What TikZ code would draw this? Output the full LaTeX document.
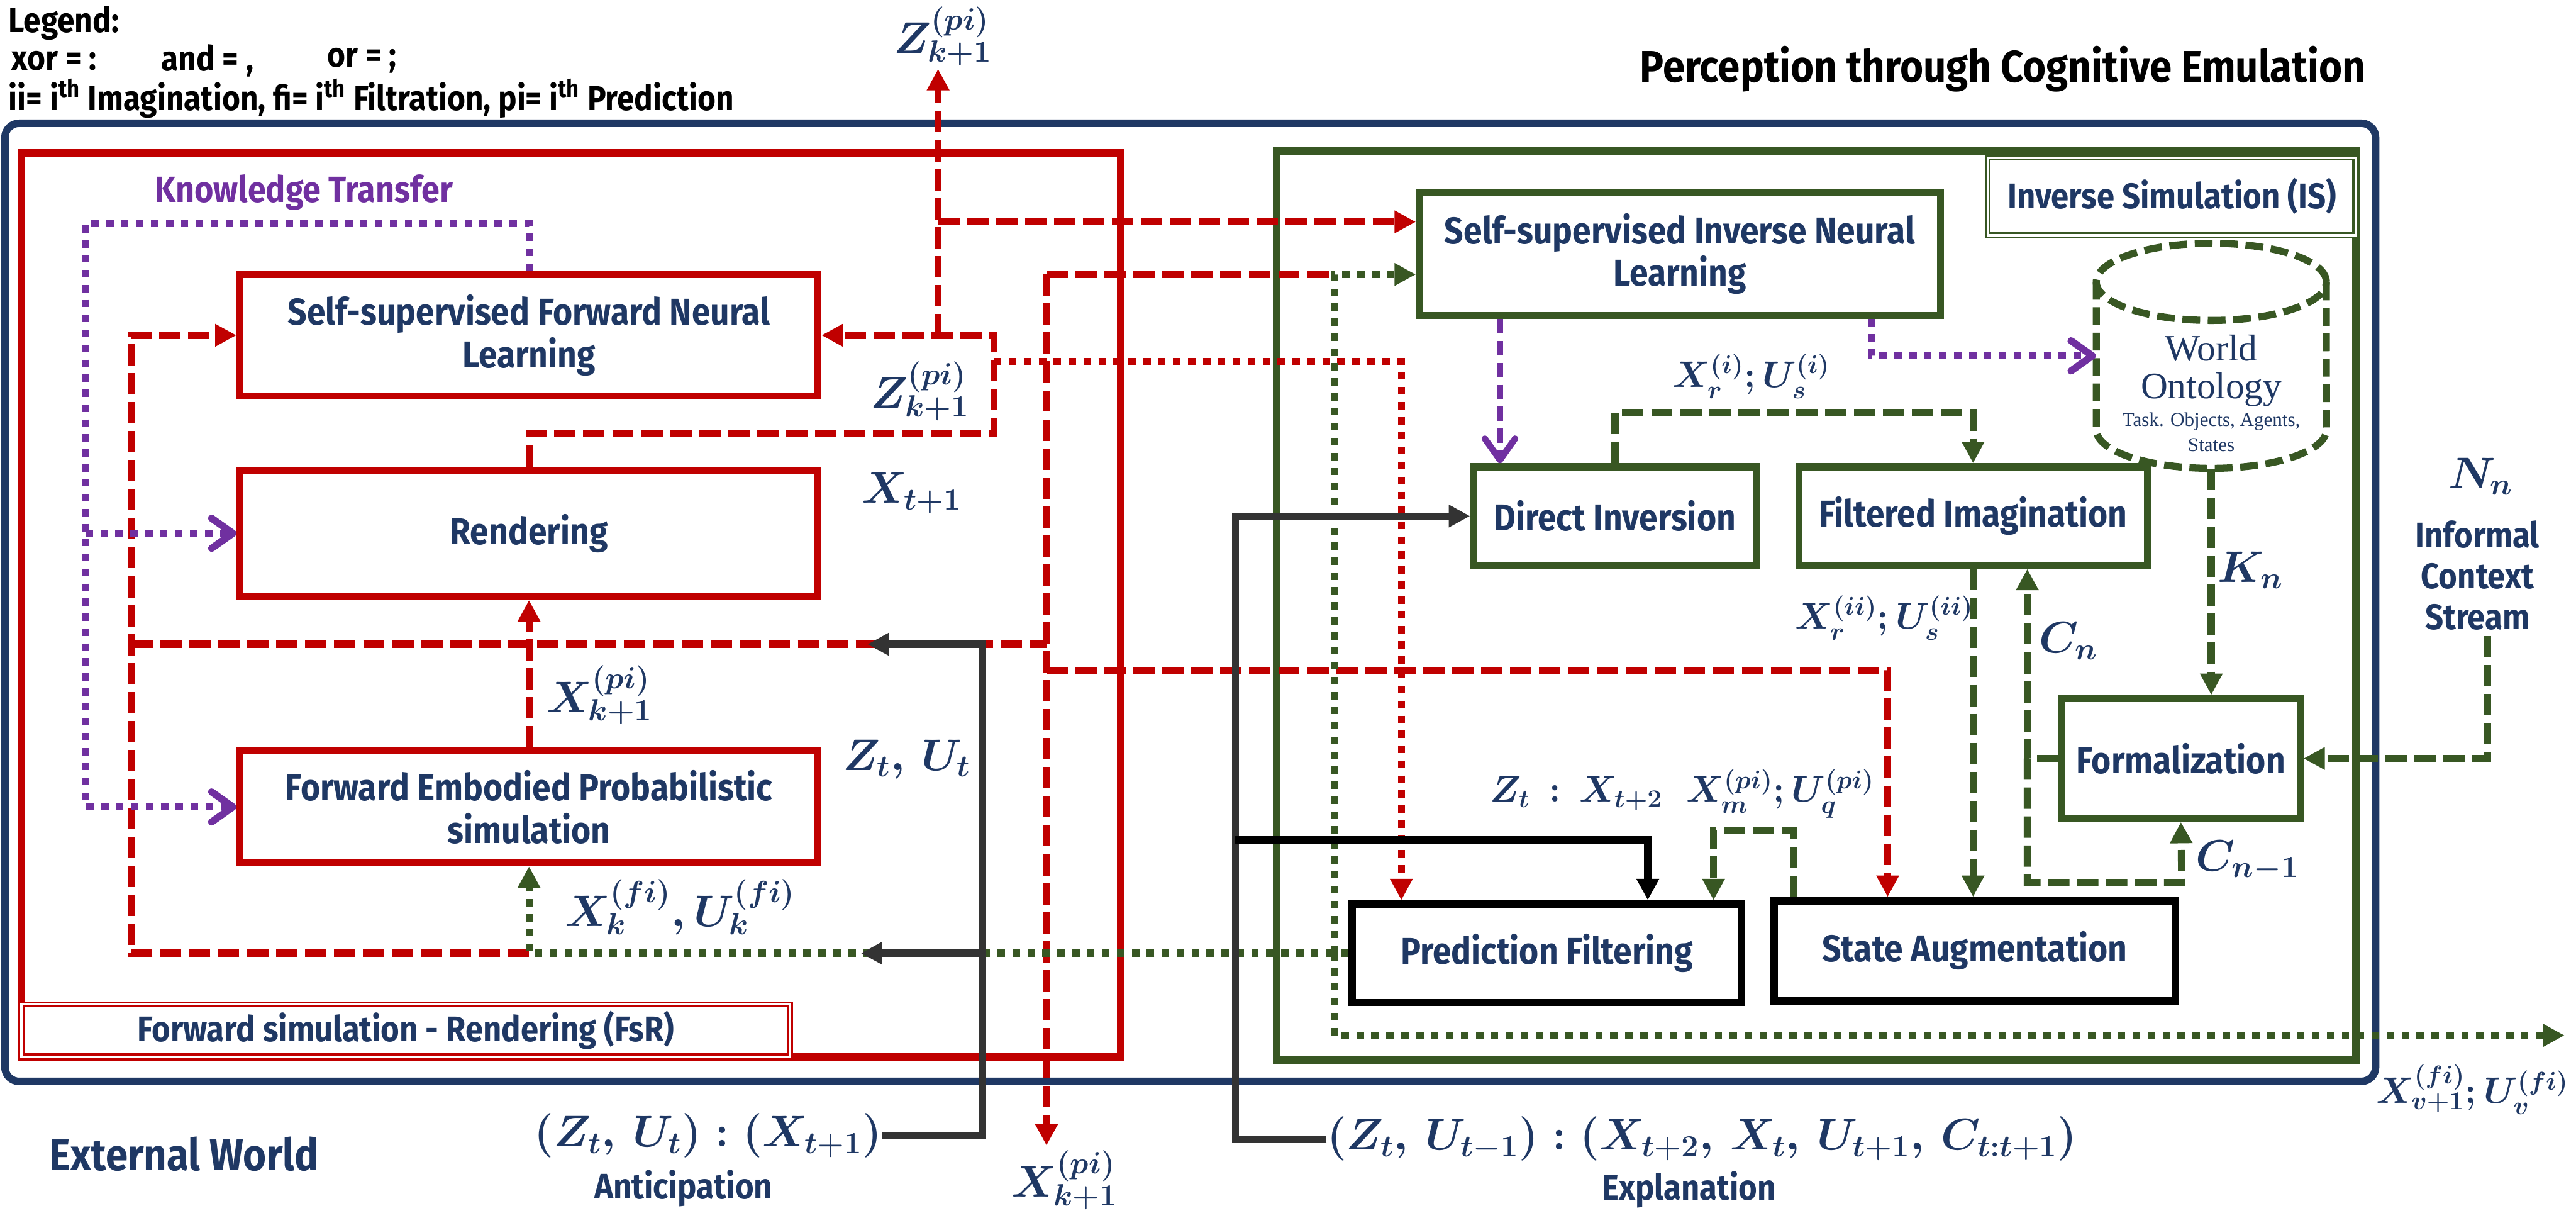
\documentclass[tikz,border=0pt]{standalone}
\usepackage{fontspec}
\usetikzlibrary{arrows.meta}
\newfontfamily\lab{Fira Sans}[FakeStretch=0.9]
\newfontfamily\serf{Liberation Serif}
\definecolor{navy}{HTML}{1F3864}
\definecolor{dred}{HTML}{C00000}
\definecolor{dgreen}{HTML}{385723}
\definecolor{purp}{HTML}{7030A0}
\definecolor{dgray}{HTML}{333333}
\tikzset{
  every node/.style={inner sep=0pt},
  bx/.style={fill=white, text=navy, align=center, inner sep=0pt, font=\lab\bfseries\fontsize{21}{24}\selectfont},
  rbox/.style={bx, draw=dred, line width=4pt},
  gbox/.style={bx, draw=dgreen, line width=4pt},
  kbox/.style={bx, draw=black, line width=4.2pt},
  ml/.style={text=navy, font=\fontsize{#1}{#1}\selectfont\boldmath},
  ml/.default=22,
  tl/.style={text=navy, font=\lab\bfseries\fontsize{20}{23}\selectfont, align=center},
  lg/.style={text=black, anchor=west, font=\lab\bfseries\fontsize{19.5}{22}\selectfont},
  rdash/.style={dred, line width=4pt, dash pattern=on 12pt off 4.3pt},
  rdot/.style={dred, line width=4pt, dash pattern=on 4.2pt off 4.2pt},
  gdash/.style={dgreen, line width=4pt, dash pattern=on 12pt off 4.3pt},
  gdot/.style={dgreen, line width=4pt, dash pattern=on 4.2pt off 4.2pt},
  pdot/.style={purp, line width=4pt, dash pattern=on 4.2pt off 4.2pt},
  pdash/.style={purp, line width=3.6pt, dash pattern=on 8pt off 4.3pt},
  kline/.style={dgray, line width=4pt},
  tri/.style={-{Triangle[length=12pt,width=12pt]}},
  barb/.style={-{Straight Barb[length=12pt,width=17pt,round]}},
}
\begin{document}
\begin{tikzpicture}[x=0.03248cm, y=-0.03248cm]
\useasboundingbox (0,0) rectangle (1568,741);
% frames
\draw[navy, line width=4.2pt, rounded corners=8pt] (3,75) rectangle (1446,658);
\draw[dred, line width=4.2pt] (13,93) rectangle (682,643);
\draw[dgreen, line width=4.2pt] (777,92) rectangle (1434,645);
\node[draw=dred, double, double distance=1.4pt, line width=0.8pt, minimum width=15.2cm, minimum height=1.04cm, tl] (fsr) at (247,627) {Forward simulation - Rendering (FsR)};
\node[draw=dgreen, double, double distance=1.4pt, line width=0.8pt, minimum width=7.28cm, minimum height=1.53cm, tl] (is) at (1322,119.5) {Inverse Simulation (IS)};

% legend and title
\node[lg] (lg1) at (5,14) {Legend:};
\node[lg] (lg2) at (7,37) {xor = :};
\node[lg] (lg3) at (98,37) {and = ,};
\node[lg] (lg4) at (199,37) {or = ;};
\node[lg] (lg5) at (5,60) {ii= i\textsuperscript{th} Imagination, fi= i\textsuperscript{th} Filtration, pi= i\textsuperscript{th} Prediction};
\node[text=black, font=\lab\bfseries\fontsize{25}{28}\selectfont] (title) at (1219,42) {Perception through Cognitive Emulation};
\node[text=purp, font=\lab\bfseries\fontsize{20.5}{23}\selectfont] (kt) at (185,117) {Knowledge Transfer};
\node[text=navy, font=\lab\bfseries\fontsize{25}{28}\selectfont] (ew) at (112,702) {External World};

% boxes
\node[rbox, minimum width=11.43cm, minimum height=2.40cm] (fwd) at (322,204) {Self-supervised Forward Neural\\Learning};
\node[rbox, minimum width=11.43cm, minimum height=2.50cm] (rend) at (322,324.5) {Rendering};
\node[rbox, minimum width=11.43cm, minimum height=2.21cm] (feps) at (322,491) {Forward Embodied Probabilistic\\simulation};
\node[gbox, minimum width=10.30cm, minimum height=2.44cm] (invn) at (1022.5,154.5) {Self-supervised Inverse Neural\\Learning};
\node[gbox, minimum width=5.59cm, minimum height=1.95cm] (dinv) at (983,314) {Direct Inversion};
\node[gbox, minimum width=6.89cm, minimum height=1.95cm] (fi) at (1201,314) {Filtered Imagination};
\node[gbox, minimum width=4.71cm, minimum height=2.37cm] (form) at (1327.5,461.5) {Formalization};
\node[kbox, minimum width=7.70cm, minimum height=1.95cm] (pf) at (941.5,580) {Prediction Filtering};
\node[kbox, minimum width=7.93cm, minimum height=1.98cm] (sa) at (1202,578.5) {State Augmentation};

% world ontology cylinder
\node[minimum width=4.55cm, minimum height=4.45cm] (onto) at (1346,216.5) {};
\draw[gdash, line width=4pt, dash pattern=on 10pt off 4.3pt] (1346,171.5) ellipse [x radius=2.275cm, y radius=0.763cm];
\draw[gdash, line width=4pt, dash pattern=on 10pt off 4.3pt] (1276,171.5) -- (1276,261.5) arc[start angle=180, end angle=360, x radius=2.275cm, y radius=0.763cm] -- (1416,171.5);
\node[text=navy, font=\serf\fontsize{21}{23}\selectfont] (wo1) at (1346,212) {World};
\node[text=navy, font=\serf\fontsize{21}{23}\selectfont] (wo2) at (1346,237) {Ontology};
\node[text=navy, font=\serf\fontsize{11}{12}\selectfont, align=center] (wo3) at (1346,263) {Task. Objects, Agents,\\[2pt]States};

% math labels
\node[ml=25.5] (ztop) at (574,22) {$Z^{(pi)}_{k+1}$};
\node[ml=25.5] (zfwd) at (560,238) {$Z^{(pi)}_{k+1}$};
\node[ml=25] (xt1) at (555,300) {$X_{t+1}$};
\node[ml=25] (xpk) at (365,423) {$X^{(pi)}_{k+1}$};
\node[ml=25] (ztut) at (552,462) {$Z_t,\,U_t$};
\node[ml=23.5] (xfi) at (414,552) {$X^{(fi)}_k,U^{(fi)}_k$};
\node[ml=23.5] (antl) at (431,691) {$(Z_t,\,U_t):(X_{t+1})$};
\node[tl] (ant) at (416,723) {Anticipation};
\node[ml=26] (xbot) at (648,718) {$X^{(pi)}_{k+1}$};
\node[ml] (xri) at (1066,229) {$X^{(i)}_r;U^{(i)}_s$};
\node[ml] (xrii) at (1147,376) {$X^{(ii)}_r;U^{(ii)}_s$};
\node[ml=25] (kn) at (1370,347) {$K_n$};
\node[ml=24] (cn) at (1259,390) {$C_n$};
\node[ml=23.5] (cn1) at (1368,524) {$C_{n-1}$};
\node[ml=24.5] (nn) at (1510,290) {$N_n$};
\node[tl] (ics) at (1508,350) {Informal\\Context\\Stream};
\node[ml] (zxm) at (1024,483) {$Z_t\,:\,X_{t+2}\;\;X^{(pi)}_m;U^{(pi)}_q$};
\node[ml=21.5] (xv) at (1505,663) {$X^{(fi)}_{v+1};U^{(fi)}_v$};
\node[ml=23] (expl) at (1036,693) {$(Z_t,\,U_{t-1}):(X_{t+2},\,X_t,\,U_{t+1},\,C_{t:t+1})$};
\node[tl] (exl) at (1028,724) {Explanation};

% red dashed
\draw[rdash,tri] (rend.north) -- (322,264) -- (605,264) -- (605,204) -- (fwd.east);
\draw[rdash,tri] (571,204) -- (571,42);
\draw[rdash,tri] (571,135) -- (invn.west |- 571,135);
\draw[rdash] (637,167) -- (812,167);
\draw[rdash,tri] (637,167) -- (637,697);
\draw[rdash] (80,392) -- (637,392);
\draw[rdash,tri] (637,408) -- (1149,408) -- (sa.north -| 1149,408);
\draw[rdash,tri] (322,580) -- (80,580) -- (80,204) -- (fwd.west);
\draw[rdash,tri] (feps.north) -- (rend.south);
% red dotted
\draw[rdot,tri] (605,220) -- (853,220) -- (pf.north -| 853,220);
% green dotted
\draw[gdot,tri] (pf.west) -- (322,580) -- (feps.south);
\draw[gdot,tri] (812,580) -- (812,167) -- (invn.west |- 812,167);
\draw[gdot,tri] (812,580) -- (812,630) -- (1561,630);
% green dashed
\draw[gdash,tri] (dinv.north) -- (983,251) -- (1201,251) -- (fi.north);
\draw[gdash,tri] (onto.south) -- (form.north -| onto.south);
\draw[gdash,tri] (fi.south) -- (sa.north -| fi.south);
\draw[gdash,tri] (form.west) -- (1234,461.5) -- (fi.south -| 1234,0);
\draw[gdash,tri] (1234,461.5) -- (1234,537) -- (1328,537) -- (form.south);
\draw[gdash,tri] (1514,387) -- (1514,461.5) -- (form.east);
\draw[gdash,tri] (sa.north -| 1092,0) -- (1092,505) -- (1043,505) -- (pf.north -| 1043,0);
% purple
\draw[pdot,barb] (fwd.north) -- (322,136) -- (52,136) -- (52,491) -- (feps.west);
\draw[pdot,barb] (52,324.5) -- (rend.west);
\draw[pdash,barb] (invn.south -| 913,0) -- (dinv.north -| 913,0);
\draw[pdot,barb] (invn.south -| 1139,0) -- (1139,216.5) -- (onto.west);
% black
\draw[kline,tri] (antl.east) -- (598,691) -- (598,392) -- (528,392);
\draw[kline,tri] (598,580) -- (524,580);
\draw[kline,tri] (expl.west) -- (752,693) -- (752,314) -- (dinv.west);
\draw[black, line width=4pt, tri] (752,511) -- (1003,511) -- (pf.north -| 1003,0);
\end{tikzpicture}
\end{document}
